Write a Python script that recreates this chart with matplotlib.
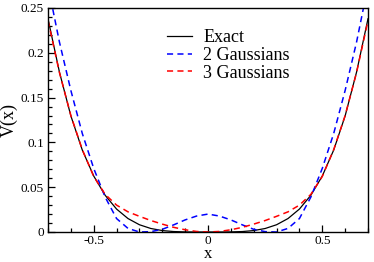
import matplotlib
matplotlib.use("Agg")
import matplotlib.pyplot as plt
from matplotlib.ticker import MultipleLocator

# ------------------------------
# Data
# ------------------------------
x_vals = [-0.70, -0.65, -0.60, -0.55, -0.50, -0.45, -0.40, -0.35, -0.30, -0.25,
          -0.20, -0.15, -0.10, -0.05, 0.00, 0.05, 0.10, 0.15, 0.20, 0.25,
          0.30, 0.35, 0.40, 0.45, 0.50, 0.55, 0.60, 0.65, 0.70]

exact = [0.238, 0.1785, 0.1296, 0.0915, 0.0625, 0.041, 0.0256, 0.015, 0.0081, 0.0039,
         0.0016, 0.0005, 0.0001, 0.0, 0.0, 0.0, 0.0001, 0.0005, 0.0016, 0.0039,
         0.0081, 0.015, 0.0256, 0.041, 0.0625, 0.0915, 0.1296, 0.1785, 0.238]

gauss2 = [0.275, 0.212, 0.158, 0.110, 0.071, 0.039, 0.015, 0.004, 0.0, 0.0004,
          0.003, 0.008, 0.0135, 0.0178, 0.020, 0.0178, 0.0135, 0.008, 0.003, 0.0004,
          0.0, 0.004, 0.015, 0.039, 0.071, 0.110, 0.158, 0.212, 0.275]

gauss3 = [0.236, 0.178, 0.130, 0.092, 0.062, 0.042, 0.030, 0.0225, 0.0175, 0.0128,
          0.0088, 0.0052, 0.0025, 0.0006, 0.0, 0.0006, 0.0025, 0.0052, 0.0088, 0.0128,
          0.0175, 0.0225, 0.030, 0.042, 0.062, 0.092, 0.130, 0.178, 0.236]

legend_labels = ["Exact", "2 Gaussians", "3 Gaussians"]

plt.rcParams["font.family"] = ["Liberation Serif", "DejaVu Serif"]

fig = plt.figure(figsize=(3.74, 2.62), dpi=100)
ax = fig.add_axes([48 / 374, 30 / 262, 320 / 374, 224 / 262])

ax.plot(x_vals, exact, color="black", lw=0.9, label=legend_labels[0])
ax.plot(x_vals, gauss2, color="#0000ff", lw=1.1, linestyle=(0, (4, 2.8)), label=legend_labels[1])
ax.plot(x_vals, gauss3, color="#ff0000", lw=1.1, linestyle=(0, (4, 2.8)), label=legend_labels[2])

ax.set_xlim(-0.7, 0.7)
ax.set_ylim(0, 0.25)
ax.xaxis.set_minor_locator(MultipleLocator(0.1))
ax.yaxis.set_minor_locator(MultipleLocator(0.01))
ax.set_xticks([-0.5, 0, 0.5])
ax.set_xticklabels(["-0.5", "0", "0.5"])
ax.set_yticks([0, 0.05, 0.1, 0.15, 0.2, 0.25])
ax.set_yticklabels(["0", "0.05", "0.1", "0.15", "0.2", "0.25"])
ax.tick_params(which="both", direction="in", top=False, right=False, labelsize=9.5, width=0.9)
ax.tick_params(which="major", length=5, pad=3)
ax.tick_params(axis="x", which="major", pad=2)
ax.tick_params(which="minor", length=3)
for sp in ax.spines.values():
    sp.set_linewidth(1.0)

ax.set_xlabel("x", fontsize=12, labelpad=-0.5)
ax.set_ylabel("V(x)", fontsize=13, labelpad=2)

ax.legend(loc="upper left", bbox_to_anchor=(167 / 374, 1 - 29 / 262), bbox_transform=fig.transFigure,
          frameon=False, fontsize=13, handlelength=1.4, handletextpad=0.6,
          labelspacing=0.05, borderpad=0, borderaxespad=0)

fig.savefig("out.png", dpi=100)
